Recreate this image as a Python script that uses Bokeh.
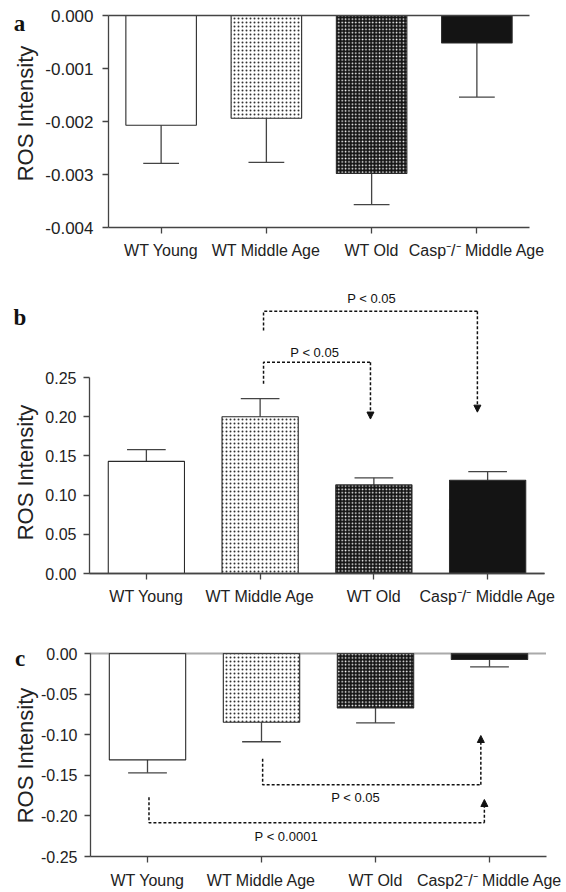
import math
import numpy as np
from bokeh.plotting import figure
from bokeh.models import (ColumnDataSource, FixedTicker, PrintfTickFormatter,
                          Arrow, NormalHead, Range1d)
from bokeh.layouts import column
from bokeh.embed import file_html
from bokeh.resources import INLINE
from bokeh.core.properties import value

# ---------------- data ----------------
groups_ab = ["WT Young", "WT Middle Age", "WT Old", "Casp\u207b/\u207b Middle Age"]
groups_c = ["WT Young", "WT Middle Age", "WT Old", "Casp2\u207b/\u207b Middle Age"]
group_pos = [1, 2, 3, 4]

a_mean = [-0.00207, -0.00194, -0.00298, -0.00052]
a_sem = [0.00072, 0.00083, 0.00059, 0.00102]
a_ticks = [0.0, -0.001, -0.002, -0.003, -0.004]

b_mean = [0.143, 0.200, 0.113, 0.119]
b_sem = [0.015, 0.023, 0.009, 0.011]
b_ticks = [0.0, 0.05, 0.10, 0.15, 0.20, 0.25]

c_mean = [-0.131, -0.0847, -0.067, -0.0074]
c_sem = [0.016, 0.024, 0.0185, 0.009]
c_ticks = [0.0, -0.05, -0.10, -0.15, -0.20, -0.25]

# significance brackets (panel b)
b_brk_x0 = [2.03, 2.03]
b_brk_x1 = [2.97, 3.91]
b_brk_y0 = [0.242, 0.310]
b_brk_y1 = [0.2695, 0.3346]
b_brk_tip = [0.197, 0.2058]
b_p_text = ["P < 0.05", "P < 0.05"]
b_p_x = [2.48, 2.98]
b_p_y = [0.2823, 0.3503]

# significance brackets (panel c)
c_brk_x0 = [2.01, 1.013]
c_brk_x1 = [3.924, 3.955]
c_brk_y0 = [-0.1297, -0.177]
c_brk_y1 = [-0.1617, -0.2085]
c_brk_tip = [-0.101, -0.1798]
c_p_text = ["P < 0.05", "P < 0.0001"]
c_p_x = [2.825, 2.217]
c_p_y = [-0.177, -0.2254]

# ---------------- styles ----------------
bar_fill = ["white", "white", "#141414", "#141414"]
bar_hatch = [" ", ".", ".", " "]
bar_hatch_color = ["#000000", "#333333", "#ffffff", "#000000"]
bar_hatch_scale = [4.0, 4.0, 3.4, 4.0]
bar_hatch_weight = [1.0, 1.0, 1.0, 1.0]

FONT = "Liberation Sans"
AX = "#444444"
W = 566


def make_panel(g, mean, sem, ticks, labels, fmt, span, letter, ros,
               tick_font, standoff, xstandoff, zero_dash):
    # g: (y-axis px, px per category, screen y of zero, px per data unit)
    axis_px, unit_px, zero_py, yunit = g
    top_py, bottom_py = span
    xd = lambda px: 0.5 + (px - axis_px) / unit_px
    yd = lambda py: (zero_py - py) / yunit

    p = figure(width=W, height=bottom_py - top_py, title=None, toolbar_location=None,
               output_backend="svg", x_range=Range1d(xd(0), xd(W)),
               y_range=Range1d(yd(bottom_py), yd(top_py)),
               min_border_left=0, min_border_right=0, min_border_top=0, min_border_bottom=0)
    p.outline_line_color = None
    p.grid.visible = False
    p.background_fill_color = "white"
    p.border_fill_color = "white"

    m = np.array(mean)
    s = np.array(sem)
    end = m + np.sign(m) * s
    src = ColumnDataSource(dict(x=group_pos, top=mean, end=list(end),
                                cl=[v - 0.17 for v in group_pos], cr=[v + 0.17 for v in group_pos],
                                fill=bar_fill, hatch=bar_hatch, hc=bar_hatch_color,
                                hs=bar_hatch_scale, hw=bar_hatch_weight))
    p.segment(x0="x", y0="top", x1="x", y1="end", source=src, line_color=AX, line_width=1.3)
    p.segment(x0="cl", y0="end", x1="cr", y1="end", source=src, line_color=AX, line_width=1.3)
    p.vbar(x="x", top="top", bottom=0, width=0.67, source=src, fill_color="fill",
           line_color="#2a2a2a", line_width=1.1, hatch_pattern="hatch", hatch_color="hc",
           hatch_scale="hs", hatch_weight="hw")

    # zero line from the y axis to the right end
    if zero_dash is None:
        p.segment(x0=[0.5], y0=[0], x1=[4.5], y1=[0], line_color=AX, line_width=1.3)
    else:
        p.segment(x0=[0.5], y0=[0], x1=[4.5], y1=[0], line_color="#555555", line_width=2,
                  line_dash=zero_dash)

    p.xaxis.ticker = FixedTicker(ticks=group_pos)
    p.xaxis.major_label_overrides = {v: lab for v, lab in zip(group_pos, labels)}
    p.xaxis.bounds = (0.5, 4.5)
    p.xaxis.fixed_location = min(ticks)
    p.yaxis.ticker = FixedTicker(ticks=ticks)
    p.yaxis.formatter = PrintfTickFormatter(format=fmt)
    p.yaxis.bounds = (min(ticks), max(ticks))
    p.yaxis.fixed_location = 0.5
    for ax in (p.xaxis, p.yaxis):
        ax.axis_line_color = AX
        ax.axis_line_width = 1.3
        ax.major_tick_line_color = AX
        ax.major_tick_line_width = 1.3
        ax.major_tick_out = 6
        ax.major_tick_in = 0
        ax.minor_tick_line_color = None
        ax.major_label_text_font = FONT
        ax.major_label_text_color = "#222222"
    p.xaxis.major_label_text_font_size = "16px"
    p.yaxis.major_label_text_font_size = tick_font
    p.xaxis.major_label_standoff = xstandoff
    p.yaxis.major_label_standoff = standoff

    # panel letter and y-axis title, left of the y axis
    p.text(x=[xd(letter[1])], y=[yd(letter[2])], text=[letter[0]],
           text_font=value("Liberation Serif"), text_font_style="bold",
           text_font_size="23px", text_align="center", text_baseline="alphabetic",
           text_color="#111111")
    p.text(x=[xd(ros[0])], y=[yd(ros[1])], text=["ROS Intensity"], angle=math.pi / 2,
           text_font=value(FONT), text_font_size="22px", text_align="center",
           text_baseline="alphabetic", text_color="#222222")
    return p


def add_brackets(p, x0, x1, y0, y1, tip, ptext, px, py):
    xs = [[a, a, b] for a, b in zip(x0, x1)]
    ys = [[c, d, d] for c, d in zip(y0, y1)]
    p.multi_line(xs=xs, ys=ys, line_color="#111111", line_width=1.5, line_dash="3 2")
    asrc = ColumnDataSource(dict(x=x1, y=y1, tip=tip))
    p.add_layout(Arrow(end=NormalHead(size=7, fill_color="#111111", line_color="#111111",
                                      line_width=1),
                       x_start="x", y_start="y", x_end="x", y_end="tip", source=asrc,
                       line_color="#111111", line_width=1.5, line_dash="3 2"))
    tsrc = ColumnDataSource(dict(x=px, y=py, t=ptext))
    p.text(x="x", y="y", text="t", source=tsrc, text_font=value(FONT),
           text_font_size="13px", text_align="center", text_baseline="middle",
           text_color="#111111")


# panel a: figure spans screen y 0..273
pa = make_panel((108, 105.25, 15, 53000), a_mean, a_sem, a_ticks, groups_ab, "%.3f",
                (0, 273), ("a", 19, 23), (25, 113), "17px", 9, 8, None)
# panel b: figure spans screen y 273..615
pb = make_panel((89, 113.75, 573, 784), b_mean, b_sem, b_ticks, groups_ab, "%.2f",
                (273, 615), ("b", 19.5, 317), (25, 472), "16px", 7, 8, None)
add_brackets(pb, b_brk_x0, b_brk_x1, b_brk_y0, b_brk_y1, b_brk_tip, b_p_text, b_p_x, b_p_y)
# panel c: figure spans screen y 615..892
pc = make_panel((90, 114, 653, 812), c_mean, c_sem, c_ticks, groups_c, "%.2f",
                (615, 892), ("c", 19.5, 658), (25, 755), "16px", 7, 9, "1 1")
add_brackets(pc, c_brk_x0, c_brk_x1, c_brk_y0, c_brk_y1, c_brk_tip, c_p_text, c_p_x, c_p_y)

layout = column(pa, pb, pc, spacing=0)
open("out.html", "w").write(file_html(layout, INLINE))
